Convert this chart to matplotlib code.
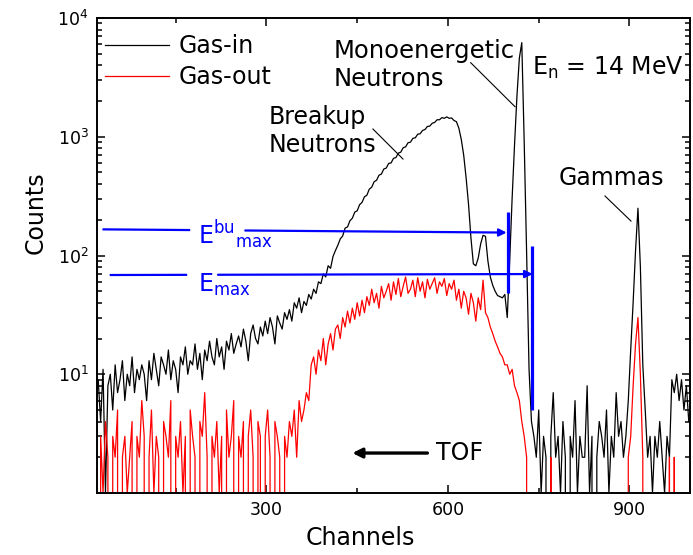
import numpy as np
import matplotlib
matplotlib.use('Agg')
from matplotlib import pyplot as plt
from matplotlib.ticker import FixedLocator, LogLocator, NullFormatter

plt.rcParams['font.family'] = ['DejaVu Sans']
plt.rcParams['mathtext.fontset'] = 'dejavusans'

# spectrum, every 4th channel
channels = np.arange(18, 1000, 4)

gas_in = [
    6, 9, 4, 11, 1, 8, 10, 5, 12, 7,
    9, 13, 6, 10, 8, 14, 7, 11, 9, 12,
    10, 6, 13, 9, 15, 11, 8, 14, 12, 10,
    16, 9, 13, 11, 7, 14, 12, 17, 10, 13,
    12, 18, 11, 15, 9, 16, 13, 19, 14, 12,
    20, 14, 17, 11, 19, 16, 22, 15, 18, 21,
    17, 24, 19, 13, 22, 26, 20, 18, 25, 21,
    28, 22, 30, 25, 18, 31, 27, 24, 33, 29,
    35, 28, 40, 36, 44, 33, 41, 38, 47, 43,
    52, 48, 60, 58, 70, 66, 82, 78, 98, 110,
    122, 138, 146, 170, 174, 196, 206, 232, 238, 268,
    280, 312, 322, 362, 376, 418, 430, 474, 485, 535,
    545, 596, 602, 658, 668, 728, 742, 808, 822, 890,
    900, 970, 980, 1050, 1060, 1130, 1150, 1220, 1230, 1300,
    1320, 1390, 1390, 1450, 1430, 1470, 1430, 1440, 1370, 1340,
    1180, 950, 700, 450, 270, 140, 85, 82, 95, 125,
    148, 145, 90, 66, 56, 50, 46, 45, 44, 47,
    30, 90, 300, 850, 2200, 4600, 6200, 900, 105, 11,
    4, 3, 2, 5, 1, 3, 2, 0, 3, 7,
    2, 3, 1, 4, 2, 0, 3, 2, 6, 1,
    3, 2, 2, 8, 1, 3, 0, 2, 4, 3,
    2, 5, 1, 3, 2, 7, 3, 4, 2, 3,
    6, 16, 40, 110, 250, 80, 12, 5, 2, 3,
    1, 3, 2, 4, 2, 1, 3, 2, 9, 7,
    10, 6, 9, 5, 8, 4,
]

gas_out = [
    2, 0, 3, 1, 4, 2, 0, 3, 2, 5,
    0, 2, 3, 1, 2, 4, 0, 3, 2, 6,
    3, 0, 2, 5, 1, 3, 2, 0, 4, 3,
    2, 6, 0, 3, 2, 4, 1, 3, 0, 5,
    3, 2, 0, 4, 3, 7, 2, 0, 3, 2,
    4, 1, 3, 0, 5, 2, 3, 6, 0, 3,
    2, 4, 0, 3, 5, 2, 0, 4, 3, 0,
    3, 5, 2, 0, 4, 3, 2, 0, 3, 2,
    4, 3, 5, 2, 6, 4, 5, 7, 6, 12,
    14, 10, 16, 13, 20, 12, 18, 22, 16, 24,
    26, 20, 30, 25, 34, 27, 36, 29, 40, 31,
    42, 33, 45, 38, 52, 40, 48, 36, 55, 44,
    50, 58, 42, 60, 47, 64, 45, 55, 66, 48,
    52, 62, 45, 65, 50, 60, 44, 63, 52, 58,
    65, 48, 60, 55, 64, 46, 58, 52, 62, 42,
    52, 36, 50, 44, 32, 48, 40, 28, 44, 35,
    62, 33, 30, 25, 22, 19, 17, 15, 14, 12,
    12, 10, 11, 8, 7, 6, 4, 3, 2, 0,
    0, 0, 0, 0, 0, 0, 0, 0, 2, 0,
    0, 0, 0, 0, 0, 0, 0, 0, 0, 0,
    0, 0, 0, 0, 0, 0, 0, 0, 0, 0,
    0, 0, 0, 0, 0, 0, 0, 0, 0, 0,
    2, 3, 8, 18, 30, 10, 2, 0, 0, 0,
    0, 0, 0, 0, 0, 0, 0, 2, 0, 2,
    0, 0, 0, 0, 0, 0,
]

x_major = [300, 600, 900]
x_minor = [150, 450, 750]
y_major = [10, 100, 1000, 10000]

# cut-off markers (channel, count)
ebu_line = [(29, 166), (697, 156)]
ebu_gap = (174, 265)
ebu_bar = (700, 48, 232)
emax_line = [(41, 68.5), (740, 69.8)]
emax_gap = (169, 220)
emax_bar = (739, 5, 120)

fig = plt.figure(figsize=(6.93, 5.55), dpi=100)
ax = fig.add_axes([97 / 693, 62 / 555, 593 / 693, 475 / 555])

ax.plot(channels, gas_in, color='black', lw=0.9, label='Gas-in')
ax.plot(channels, gas_out, color='red', lw=0.9, label='Gas-out')

ax.set_yscale('log', nonpositive='clip')
ax.set_xlim(20, 1000)
ax.set_ylim(1, 1e4)

ax.xaxis.set_major_locator(FixedLocator(x_major))
ax.xaxis.set_minor_locator(FixedLocator(x_minor))
ax.yaxis.set_major_locator(FixedLocator(y_major))
ax.yaxis.set_minor_locator(LogLocator(base=10, subs=np.arange(2, 10)))
ax.yaxis.set_minor_formatter(NullFormatter())

ax.tick_params(which='both', direction='in', top=True, right=True,
               labelsize=12.5, pad=6, width=1.1)
ax.tick_params(which='major', length=5.8)
ax.tick_params(which='minor', length=3.4)
for s in ax.spines.values():
    s.set_linewidth(1.4)

ax.set_xlabel('Channels', fontsize=17)
ax.xaxis.set_label_coords(0.4435, -0.069)
ax.set_ylabel('Counts', fontsize=17)
ax.yaxis.set_label_coords(-0.084, 0.59)

ax.legend(loc='upper left', bbox_to_anchor=(0, 0.983), frameon=False, fontsize=17,
          handlelength=2.7, handletextpad=0.4, labelspacing=0.3,
          borderaxespad=0.0, borderpad=0.35)

blue = '#0000ff'


def interp_y(line, x):
    (x0, y0), (x1, y1) = line
    t = (x - x0) / (x1 - x0)
    return 10 ** (np.log10(y0) + t * (np.log10(y1) - np.log10(y0)))


for line, gap, bar in [(ebu_line, ebu_gap, ebu_bar), (emax_line, emax_gap, emax_bar)]:
    (x0, y0), (x1, y1) = line
    ax.plot([x0, gap[0]], [y0, interp_y(line, gap[0])], color=blue, lw=1.6,
            solid_capstyle='butt')
    ax.annotate('', xy=(x1, y1), xytext=(gap[1], interp_y(line, gap[1])),
                arrowprops=dict(arrowstyle='-|>', color=blue, lw=1.6,
                                mutation_scale=11, shrinkA=0, shrinkB=0))
    ax.plot([bar[0], bar[0]], [bar[1], bar[2]], color=blue, lw=2.3,
            solid_capstyle='butt')

ax.text(187, 125, r'$\mathrm{E}^{\mathrm{bu}}{}_{\mathrm{max}}$', color=blue,
        fontsize=17, ha='left', va='baseline')
ax.text(187, 49, r'$\mathrm{E}_{\mathrm{max}}$', color=blue,
        fontsize=17, ha='left', va='baseline')

# TOF arrow
ax.annotate('', xy=(442, 2.17), xytext=(566, 2.17),
            arrowprops=dict(arrowstyle='-|>', color='black', lw=2.4,
                            mutation_scale=14, shrinkA=0, shrinkB=0))
ax.text(580, 2.17, 'TOF', fontsize=17, ha='left', va='center')

# peak labels (y is the baseline of the last line)
ax.text(411.7, 2674, 'Monoenergetic\nNeutrons', fontsize=17.5, ha='left', va='baseline')
ax.plot([637.6, 710.8], [4204, 1791], color='black', lw=0.8)
ax.text(304, 744, 'Breakup\nNeutrons', fontsize=17, ha='left', va='baseline')
ax.plot([476, 525.7], [1162, 649], color='black', lw=0.8)
ax.text(783.5, 392, 'Gammas', fontsize=17, ha='left', va='baseline')
ax.plot([859.5, 902.5], [317, 195], color='black', lw=0.8)
ax.text(739, 3314, r'E$_{\mathrm{n}}$ = 14 MeV', fontsize=17, ha='left', va='baseline')

fig.savefig('out.png', dpi=100)
